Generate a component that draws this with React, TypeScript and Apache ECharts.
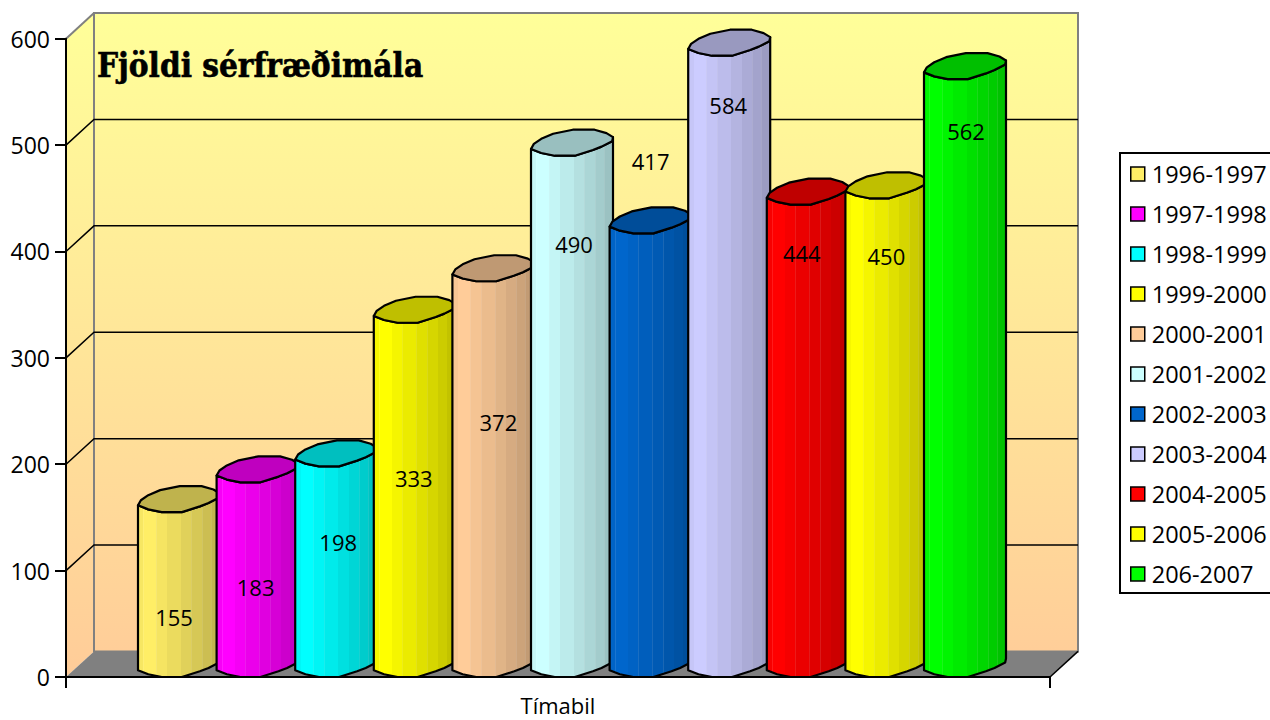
import React, { useEffect, useRef } from "react";
import * as echarts from "echarts";

const CATEGORY = ["Tímabil"];
const PERIODS = ["1996-1997","1997-1998","1998-1999","1999-2000","2000-2001","2001-2002","2002-2003","2003-2004","2004-2005","2005-2006","206-2007"];
const VALUES = [155,183,198,333,372,490,417,584,444,450,562];
const COLORS = ["#FFEE66","#FF00FF","#00FFFF","#FFFF00","#FFCC99","#CCFFFF","#0066CC","#CCCCFF","#FF0000","#FFFF00","#00FF00"];
const TICKS = [0,100,200,300,400,500,600];
const LABEL_HEIGHT = [56,85,127,187,240,407,485,538,399,396,513];
const LABEL_SHIFT = [-5,-2,2,-1,5,2,0,-1,-6,0,1];

const DEPTH_X = 28, DEPTH_Y = 25.6, PITCH = 78.6, BODY = 82, CAP_H = 26;
const FONT = '"Open Sans", "Noto Sans", sans-serif';
const OUTLINE: number[][] = [[-1,.48],[-.93,.09],[-.75,-.3],[-.46,-.69],[.02,-1],[.55,-1],[.84,-.74],[1,-.43],[.98,-.12],[.72,.3],[.51,.56],[.07,1],[-.42,1],[-.75,.79]];
const FRONT_IDX = [7,8,9,10,11,12,13,0];
const BAND_EDGES = [0,.065,.22,.35,.52,.65,.78,.89,1];
const BAND_SHADES = [.97,1,.96,.92,.88,.84,.8,.76];

function mix(hex: string, k: number, white = 0) {
  const n = parseInt(hex.slice(1), 16);
  const c = [(n >> 16) & 255, (n >> 8) & 255, n & 255].map((v) => Math.round(v * k * (1 - white) + 255 * white));
  return `rgb(${c[0]},${c[1]},${c[2]})`;
}
function sideFill(hex: string) {
  const stops: any[] = [];
  BAND_SHADES.forEach((k, i) => {
    const a = BAND_EDGES[i], b = BAND_EDGES[i + 1];
    if (i > 0) {
      stops.push({ offset: a, color: mix(hex, k, 0.1) });
      stops.push({ offset: a + 0.008, color: mix(hex, k, 0.1) });
      stops.push({ offset: a + 0.008, color: mix(hex, k) });
    } else {
      stops.push({ offset: a, color: mix(hex, k) });
    }
    stops.push({ offset: b, color: mix(hex, k) });
  });
  return { type: "linear", x: 0, y: 0, x2: 1, y2: 0, colorStops: stops };
}

export default function App() {
  const ref = useRef<HTMLDivElement>(null);
  useEffect(() => {
    document.body.style.margin = "0";
    const chart = echarts.init(ref.current!, undefined, { renderer: "svg" });
    const wall = {
      type: "custom", silent: true, z: 1, coordinateSystem: "cartesian2d",
      data: [[CATEGORY[0], 0]], encode: { x: 0, y: 1 },
      renderItem: (params: any, api: any) => {
        const [x0, y0] = api.coord([0, 0]);
        const [, yTop] = api.coord([0, 600]);
        const x1 = x0 + api.size([1, 0])[0] / 2;
        const left = x0 - api.size([1, 0])[0] / 2;
        const gradient = { type: "linear", global: true, x: 0, y: yTop - DEPTH_Y, x2: 0, y2: y0, colorStops: [{ offset: 0, color: "#FFFF99" }, { offset: 1, color: "#FFCC99" }] };
        const kids: any[] = [
          { type: "polygon", shape: { points: [[left, yTop], [left + DEPTH_X, yTop - DEPTH_Y], [left + DEPTH_X, y0 - DEPTH_Y], [left, y0]] }, style: { fill: gradient, stroke: "none" } },
          { type: "rect", shape: { x: left + DEPTH_X, y: yTop - DEPTH_Y, width: x1 - left, height: y0 - yTop }, style: { fill: gradient, stroke: "#808080", lineWidth: 2 } },
          { type: "polygon", shape: { points: [[left, y0], [left + DEPTH_X, y0 - DEPTH_Y], [x1 + DEPTH_X, y0 - DEPTH_Y], [x1, y0]] }, style: { fill: "#808080", stroke: "none" } },
          { type: "line", shape: { x1: left, y1: yTop, x2: left + DEPTH_X, y2: yTop - DEPTH_Y }, style: { stroke: "#808080", lineWidth: 2 } },
          { type: "line", shape: { x1: x1, y1: y0, x2: x1 + DEPTH_X, y2: y0 - DEPTH_Y }, style: { stroke: "#000", lineWidth: 1.5 } },
        ];
        TICKS.slice(1, -1).forEach((t) => {
          const y = api.coord([0, t])[1];
          kids.push({ type: "polyline", shape: { points: [[left, y], [left + DEPTH_X, y - DEPTH_Y], [x1 + DEPTH_X, y - DEPTH_Y]] }, style: { fill: "none", stroke: "#000", lineWidth: 1.5 } });
        });
        return { type: "group", children: kids };
      },
    };
    const bars = PERIODS.map((name, i) => ({
      name, type: "custom", z: 2, coordinateSystem: "cartesian2d",
      itemStyle: { color: COLORS[i] },
      data: [[CATEGORY[0], VALUES[i]]], encode: { x: 0, y: 1 },
      renderItem: (params: any, api: any) => {
        const top = api.coord([0, api.value(1)]);
        const base = api.coord([0, 0]);
        const cx = top[0] + (i - (PERIODS.length - 1) / 2) * PITCH + DEPTH_X / 2;
        const capY = top[1] - CAP_H / 2;
        const baseY = base[1] - CAP_H / 2;
        const pt = (p: number[], cy: number) => [cx + p[0] * BODY / 2, cy + p[1] * CAP_H / 2];
        const front = FRONT_IDX.map((k) => OUTLINE[k]);
        const side = [...front.map((p) => pt(p, capY)), ...front.slice().reverse().map((p) => pt(p, baseY))];
        const lab = api.coord([0, LABEL_HEIGHT[i]]);
        return {
          type: "group",
          children: [
            { type: "polygon", shape: { points: side }, style: { fill: sideFill(COLORS[i]), stroke: "#000", lineWidth: 2.2, lineJoin: "round" } },
            { type: "polygon", shape: { points: OUTLINE.map((p) => pt(p, capY)) }, style: { fill: mix(COLORS[i], 0.75), stroke: "#000", lineWidth: 2.2, lineJoin: "round" } },
            { type: "text", x: cx + LABEL_SHIFT[i], y: lab[1], style: { text: String(VALUES[i]), fill: "#000", font: `22px ${FONT}`, align: "center", verticalAlign: "middle" } },
          ],
        };
      },
    }));
    chart.setOption({
      animation: false,
      backgroundColor: "#fff",
      color: COLORS,
      title: {
        text: "Fjöldi sérfræðimála", left: 97, top: 49, padding: 0,
        textStyle: { fontFamily: '"DejaVu Serif Condensed", "DejaVu Serif", serif', fontWeight: "bold", fontSize: 33, color: "#000", textBorderColor: "#000", textBorderWidth: 0.6 },
      },
      grid: { left: 66, right: 220, top: 38.7, bottom: 43 },
      xAxis: {
        type: "category", data: CATEGORY, z: 3,
        axisLine: { lineStyle: { color: "#000", width: 2 } },
        axisTick: { show: true, length: 11, lineStyle: { color: "#000", width: 2 } },
        axisLabel: { color: "#000", fontFamily: FONT, fontSize: 22, margin: 17 },
        splitLine: { show: false },
      },
      yAxis: {
        type: "value", min: 0, max: 600, interval: 100, z: 3,
        axisLine: { show: true, lineStyle: { color: "#000", width: 2 } },
        axisTick: { show: true, length: 11, lineStyle: { color: "#000", width: 2 } },
        axisLabel: { color: "#000", fontFamily: FONT, fontSize: 23, margin: 16 },
        splitLine: { show: false },
      },
      legend: {
        data: PERIODS, orient: "vertical", left: 1120, top: 153, icon: "rect",
        itemWidth: 14, itemHeight: 14, itemGap: 16, padding: [9, 60, 7, 10],
        backgroundColor: "#fff", borderColor: "#000", borderWidth: 2, selectedMode: false,
        itemStyle: { borderColor: "#000", borderWidth: 1.5 },
        textStyle: { color: "#000", fontFamily: FONT, fontSize: 23.5, lineHeight: 22, padding: [0, 0, 0, 2] },
      },
      series: [wall, ...bars],
    });
    return () => chart.dispose();
  }, []);
  return <div ref={ref} style={{ width: 1270, height: 720 }} />;
}
